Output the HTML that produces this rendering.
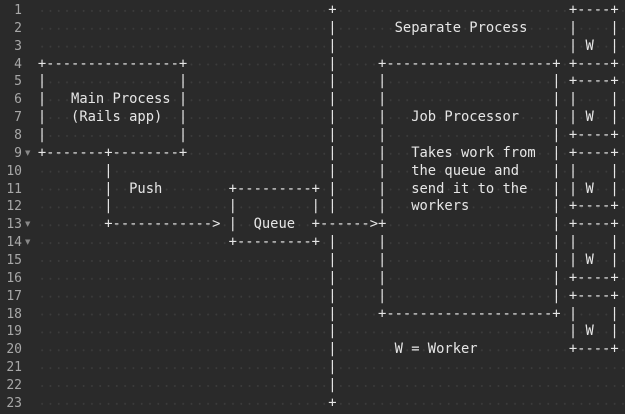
<!DOCTYPE html>
<html><head><meta charset="utf-8"><style>
html,body{margin:0;padding:0;background:#2a2a2a;}
body{width:625px;height:412px;overflow:hidden;position:relative;}
#nums{position:absolute;left:0;top:2px;width:22px;text-align:right;font-family:"DejaVu Sans Mono",monospace;font-size:13px;line-height:17.86px;color:#a8a8a8;white-space:pre;margin:0;}
#tri{position:absolute;left:25px;top:2px;font-family:"DejaVu Sans",sans-serif;font-size:7px;line-height:17.86px;color:#888;white-space:pre;margin:0;}
#grid{position:absolute;left:38px;top:2px;width:587px;height:412px;
background-image:radial-gradient(circle,#3c3c3c 0.8px,transparent 1.1px);
background-size:8.3px 17.86px;background-position:0 0;}
#code{position:absolute;left:37.85px;top:2px;margin:0;font-family:"DejaVu Sans Mono",monospace;font-size:13.79px;line-height:17.86px;color:#e6e6e6;white-space:pre;}
</style></head><body>
<div id="grid"></div>
<pre id="nums">1
2
3
4
5
6
7
8
9
10
11
12
13
14
15
16
17
18
19
20
21
22
23</pre>
<pre id="tri">








▼



▼
▼</pre>
<pre id="code">                                   +                            +----+
                                   |       Separate Process     |    |
                                   |                            | W  |
+----------------+                 |     +--------------------+ +----+
|                |                 |     |                    | +----+
|   Main Process |                 |     |                    | |    |
|   (Rails app)  |                 |     |   Job Processor    | | W  |
|                |                 |     |                    | +----+
+-------+--------+                 |     |   Takes work from  | +----+
        |                          |     |   the queue and    | |    |
        |  Push        +---------+ |     |   send it to the   | | W  |
        |              |         | |     |   workers          | +----+
        +------------&gt; |  Queue  +------&gt;+                    | +----+
                       +---------+ |     |                    | |    |
                                   |     |                    | | W  |
                                   |     |                    | +----+
                                   |     |                    | +----+
                                   |     +--------------------+ |    |
                                   |                            | W  |
                                   |       W = Worker           +----+
                                   |
                                   |
                                   +</pre>
</body></html>
